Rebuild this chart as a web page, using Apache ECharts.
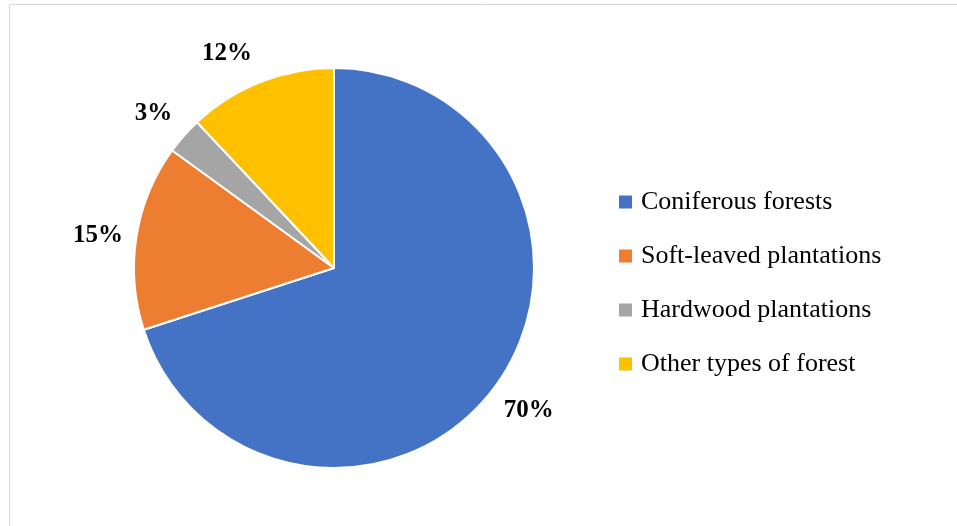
<!DOCTYPE html>
<html>
<head>
<meta charset="utf-8">
<script src="https://cdn.jsdelivr.net/npm/echarts@6/dist/echarts.min.js"></script>
<style>
  html, body { margin: 0; padding: 0; background: #ffffff; }
  #chart { width: 957px; height: 526px; }
</style>
</head>
<body>
<div id="chart"></div>
<script>
// Forest composition shares (percent)
const categories = ['Coniferous forests', 'Soft-leaved plantations', 'Hardwood plantations', 'Other types of forest'];
const shares = [70, 15, 3, 12];
const colors = ['#4472C4', '#ED7D31', '#A5A5A5', '#FFC000'];
// small per-label nudges [dx, dy] in pixels
const labelNudge = [[-1, 0], [3, 5], [1, 6], [-18, 11]];

const pieData = categories.map((name, i) => ({ name: name, value: shares[i] }));
const serif = '"Liberation Serif", "Times New Roman", serif';

const chart = echarts.init(document.getElementById('chart'), null, { renderer: 'canvas' });

chart.setOption({
  animation: false,
  color: colors,
  graphic: [{
    type: 'rect',
    silent: true,
    shape: { x: 9.5, y: 4.5, width: 1000, height: 600 },
    style: { fill: 'none', stroke: '#d6d6d6', lineWidth: 1 }
  }],
  legend: {
    orient: 'vertical',
    left: 619,
    top: 189,
    padding: 0,
    data: categories,
    icon: 'rect',
    itemWidth: 13,
    itemHeight: 13,
    itemGap: 28,
    itemStyle: { borderWidth: 0 },
    textStyle: { fontFamily: serif, fontSize: 26, color: '#000000', lineHeight: 26, padding: [0, 0, 0, 4] }
  },
  series: [
    {
      type: 'pie',
      name: 'share',
      center: [334, 268],
      radius: 200,
      startAngle: 90,
      clockwise: true,
      data: pieData,
      itemStyle: { borderColor: '#ffffff', borderWidth: 2 },
      label: { show: false },
      labelLine: { show: false },
      emphasis: { disabled: true }
    },
    {
      // transparent ring that carries the percentage labels just outside the pie
      type: 'pie',
      name: 'labels',
      silent: true,
      center: [334, 268],
      radius: [220, 258],
      startAngle: 90,
      clockwise: true,
      data: pieData,
      itemStyle: { color: 'rgba(0,0,0,0)', borderWidth: 0 },
      label: {
        show: true,
        position: 'inside',
        formatter: '{c}%',
        fontFamily: serif,
        fontWeight: 'bold',
        fontSize: 25,
        color: '#000000'
      },
      labelLayout: function (params) {
        const n = labelNudge[params.dataIndex];
        return { dx: n[0], dy: n[1] };
      },
      labelLine: { show: false },
      emphasis: { disabled: true }
    }
  ]
});
</script>
</body>
</html>
